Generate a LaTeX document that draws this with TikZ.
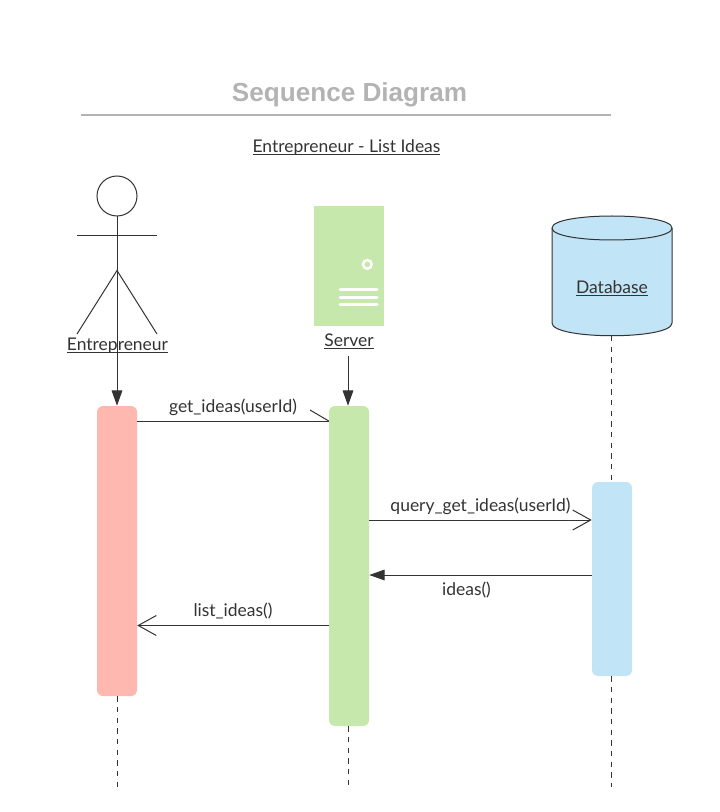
\documentclass[tikz,border=0pt]{standalone}
\usepackage{fontspec}
\setmainfont{Lato}
\newfontfamily\titlefont{Liberation Sans}
\usetikzlibrary{arrows.meta,calc,shapes.geometric}
\definecolor{ink}{HTML}{333333}
\definecolor{rbar}{HTML}{FFB8B0}
\definecolor{gbar}{HTML}{C7E8AC}
\definecolor{bbar}{HTML}{C1E4F7}
\definecolor{gr}{HTML}{B3B3B3}
\newcommand{\ulabel}[1]{\setbox0=\hbox{#1}\rlap{\rule[-1.6pt]{\wd0}{0.65pt}}\box0}
\tikzset{
  x=0.75pt,y=-0.75pt,
  line/.style={draw=ink,line width=0.75pt},
  lbl/.style={text=ink,font=\fontsize{13.1}{15}\selectfont,inner sep=0pt,anchor=base},
  actbar/.style={rounded corners=4.5pt,minimum width=30pt,inner sep=0pt,draw=none},
  solidtip/.style={line,-{Triangle[length=11.5pt,width=8pt,fill=ink]}},
  opentip/.style={line,-{Straight Barb[length=13.5pt,width=15pt,line width=0.75pt]}},
  life/.style={line,dash pattern=on 4pt off 4pt},
}
\begin{document}
\begin{tikzpicture}
\useasboundingbox (0,0) rectangle (719,812);
% title
\node[text=gr,font=\titlefont\bfseries\fontsize{19.6}{24}\selectfont,inner sep=0pt,anchor=base] (title) at (349.5,102) {Sequence Diagram};
\coordinate (ruleL) at (81,115); \coordinate (ruleR) at (611,115);
\draw[draw=gr,line width=1.1pt] (ruleL) -- (ruleR);
\node[lbl] (sub) at (346.5,152.7) {\ulabel{Entrepreneur - List Ideas}};
% activation bars
\node[actbar,fill=rbar,minimum height=217.5pt] (ebar) at (117,551) {};
\node[actbar,fill=gbar,minimum height=240pt] (sbar) at (349,566) {};
\node[actbar,fill=bbar,minimum height=145.5pt] (dbar) at (612,579) {};
% actor
\node[circle,draw=ink,line width=0.75pt,fill=white,minimum size=30pt,inner sep=0pt] (head) at (117,196) {};
\coordinate (armL) at (77,235.5); \coordinate (armR) at (157,235.5); \coordinate (armM) at (117,235.5);
\coordinate (hip) at (117,270.5);
\coordinate (footL) at (77,334); \coordinate (footR) at (157,334);
\draw[line] (armL) -- (armR);
\draw[line] (footL) -- (hip) -- (footR);
\draw[solidtip] (head) -- (ebar.north -| head);
\node[lbl] (elabel) at (117.5,350.5) {\ulabel{Entrepreneur}};
% server
\node[fill=gbar,minimum width=52.5pt,minimum height=90pt,inner sep=0pt] (server) at (349,266) {};
\node[circle,draw=white,line width=1.9pt,minimum size=6.5pt,inner sep=0pt] (led) at (367.3,264.4) {};
\coordinate (v1L) at (340,290); \coordinate (v1R) at (377,290);
\coordinate (v2L) at (340,297.5); \coordinate (v2R) at (377,297.5);
\coordinate (v3L) at (340,305); \coordinate (v3R) at (377,305);
\draw[white,line width=2.25pt,line cap=round] (v1L) -- (v1R) (v2L) -- (v2R) (v3L) -- (v3R);
\node[lbl] (slabel) at (349,346.5) {\ulabel{Server}};
\coordinate (sarrow) at (348,356);
\draw[solidtip] (sarrow) -- (sarrow |- sbar.north);
% database
\coordinate (dbTL) at (552,228); \coordinate (dbTR) at (672,228);
\coordinate (dbBL) at (552,323); \coordinate (dbBR) at (672,323);
\draw[line,fill=bbar] (dbTL) .. controls (552,212) and (672,212) .. (dbTR) -- (dbBR) .. controls (672,340) and (552,340) .. (dbBL) -- cycle;
\draw[line] (dbTL) .. controls (552,244) and (672,244) .. (dbTR);
\node[lbl] (dlabel) at (612,293.5) {\ulabel{Database}};
\coordinate (dbBot) at (611,336);
% lifelines
\coordinate (eEnd) at (117,787); \coordinate (sEnd) at (348,787); \coordinate (dEnd) at (611,787);
\draw[life] (ebar.south -| eEnd) -- (eEnd);
\draw[life] (sbar.south -| sEnd) -- (sEnd);
\draw[life] (dbBot) -- (dbar.north -| dbBot);
\draw[life] (dbar.south -| dEnd) -- (dEnd);
% messages
\coordinate (m1) at (137,421);
\draw[line] (m1) -- (m1 -| sbar.west);
\coordinate (barb) at (310,410);
\draw[line] (barb) -- (m1 -| sbar.west);
\node[lbl] (m1l) at (233,412.7) {get\_ideas(userId)};
\coordinate (m2) at (369,520);
\draw[opentip] (m2) -- (m2 -| dbar.west);
\node[lbl] (m2l) at (480.5,511.7) {query\_get\_ideas(userId)};
\coordinate (m3) at (592,575);
\draw[solidtip] (m3) -- (m3 -| sbar.east);
\node[lbl] (m3l) at (466.5,595.7) {ideas()};
\coordinate (m4) at (329,625.5);
\draw[opentip] (m4) -- (m4 -| ebar.east);
\node[lbl] (m4l) at (233,616.7) {list\_ideas()};
\end{tikzpicture}
\end{document}
